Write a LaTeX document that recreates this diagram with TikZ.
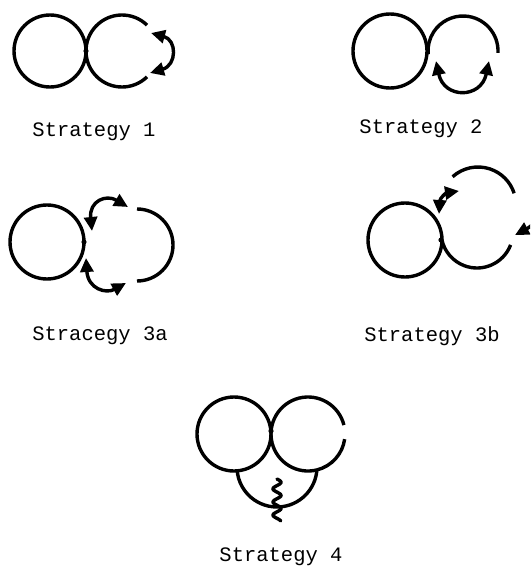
\documentclass[tikz,border=0pt]{standalone}
\usepackage{fontspec}
\setmonofont{Liberation Mono}
\usetikzlibrary{arrows.meta}
\tikzset{
  ring/.style={line width=3.4pt},
  tip/.tip={Triangle[length=14pt,width=13pt]},
  dbl/.style={line width=3.4pt,tip-tip},
  sgl/.style={line width=3.4pt,-tip},
  lbl/.style={font=\ttfamily\fontsize{20.5}{24}\selectfont,inner sep=0pt},
  blob/.style={fill=black}
}
\begin{document}
\begin{tikzpicture}[x=1pt,y=-1pt]
\useasboundingbox (0,0) rectangle (530,567);
\clip (0,0) rectangle (530,567);
% ---------- Strategy 1
\coordinate (s1l) at (50,51);
\coordinate (s1r) at (122,51);
\draw[ring] (s1l) circle[radius=36];
\draw[ring] (s1r) ++(-46:36) arc[start angle=-46,end angle=-314,radius=36];
\fill[blob] (86,51) circle[radius=2.6];
\coordinate (s1a) at (151,33);
\coordinate (s1b) at (150,73);
\draw[dbl] (s1a) .. controls (177,40) and (177,65) .. (s1b);
\node[lbl] (t1) at (94,132) {Strategy 1};
% ---------- Strategy 2
\coordinate (s2l) at (390,51);
\coordinate (s2r) at (463,51);
\draw[ring] (s2l) circle[radius=37];
\draw[ring] (s2r) ++(3:35) arc[start angle=3,end angle=-185,radius=35];
\coordinate (s2a) at (436,61);
\coordinate (s2b) at (489,61);
\draw[dbl] (s2a) .. controls (444,99) and (481,99) .. (s2b);
\node[lbl] (t2) at (421,129) {Strategy 2};
% ---------- Strategy 3a
\coordinate (s3l) at (47,242);
\coordinate (s3r) at (137,245);
\draw[ring] (s3l) circle[radius=37];
\fill[blob] (84,242) circle[radius=2.6];
\draw[ring] (s3r) ++(0,-36) arc[start angle=-90,end angle=90,radius=36];
\coordinate (s3a) at (92,231);
\coordinate (s3b) at (128,207);
\draw[dbl] (s3a) .. controls (89,201) and (106,194) .. (s3b);
\coordinate (s3c) at (86,258);
\coordinate (s3d) at (126,283);
\draw[dbl] (s3c) .. controls (88,289) and (106,294) .. (s3d);
\node[lbl] (t3a) at (100,336) {Stracegy 3a};
% ---------- Strategy 3b
\coordinate (s4l) at (405,240);
\coordinate (s4b) at (477,232);
\coordinate (s4t) at (478,205);
\draw[ring] (s4l) circle[radius=37];
\fill[blob] (441,240) circle[radius=2.6];
\draw[ring] (s4b) ++(21:36) arc[start angle=21,end angle=167,radius=36];
\draw[ring] (s4t) ++(-132:38) arc[start angle=-132,end angle=-18,radius=38];
\coordinate (s4a) at (439,214);
\coordinate (s4c) at (459,191);
\draw[dbl] (s4a) .. controls (440,198) and (446,193) .. (s4c);
\coordinate (s4d) at (550,194);
\coordinate (s4e) at (515,235);
\draw[sgl] (s4d) .. controls (545,215) and (532,226) .. (s4e);
\node[lbl] (t3b) at (432,336) {Strategy 3b};
% ---------- Strategy 4
\coordinate (s5l) at (234,434);
\coordinate (s5r) at (308,434);
\coordinate (s5b) at (277,467);
\draw[ring] (s5l) circle[radius=37];
\draw[ring] (s5r) ++(-14:37) arc[start angle=-14,end angle=-352,radius=37];
\fill[blob] (271,431) circle[radius=2.6];
\draw[ring] (s5b) ++(-185:40) arc[start angle=-185,end angle=-355,radius=40];
\draw[ring,line cap=round] plot[domain=0:1,samples=60,smooth] ({277+4*sin(\x*3.2*360)},{479+42*\x});
\node[lbl] (t4) at (281,557) {Strategy 4};
\end{tikzpicture}
\end{document}
